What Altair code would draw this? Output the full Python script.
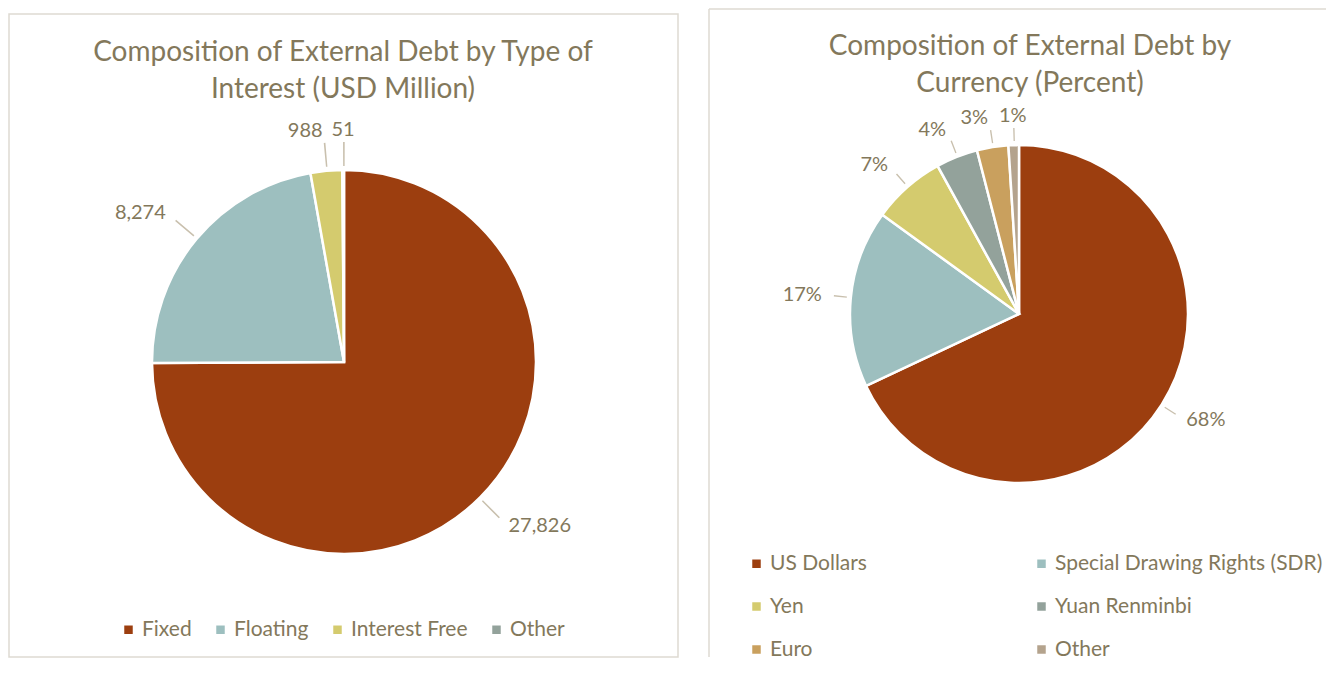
import altair as alt
import pandas as pd

# ---------------- data ----------------
interest_types = ["Fixed", "Floating", "Interest Free", "Other"]
interest_values = [27826, 8274, 988, 51]

currencies = ["US Dollars", "Special Drawing Rights (SDR)", "Yen", "Yuan Renminbi", "Euro", "Other"]
currency_pct = [68, 17, 7, 4, 3, 1]

title_left = ["Composition of External Debt by Type of", "Interest (USD Million)"]
title_right = ["Composition  of External Debt by", "Currency (Percent)"]

# ---------------- style ----------------
FONT = "Lato"
TEXT = "#83785B"
LEADER = "#C9C0AE"
BORDER = "#DEDAD2"
colors_left = ["#9C3E0F", "#9DBFBF", "#D4CB6E", "#93A29B"]
colors_right = ["#9C3E0F", "#9DBFBF", "#D4CB6E", "#93A29B", "#C9A05E", "#B4A38D"]


def pie_panel(cats, vals, colors, label_fmt, cx, cy, r, label_r, titles, tx, ty,
              legend_cols, legend_x, legend_y, col_pad, row_pad, grid_align):
    df = pd.DataFrame({"cat": cats, "val": vals, "idx": list(range(len(cats)))})
    total = float(sum(vals))
    data = alt.Data(values=df.to_dict(orient="records"))

    base = alt.Chart(data).transform_window(
        cum="sum(val)", sort=[alt.SortField("idx")], frame=[None, 0]
    ).transform_calculate(
        start="datum.cum - datum.val",
        mid="datum.cum - datum.val / 2",
        frac=f"(datum.cum - datum.val / 2) / {total}",
        mid2=f"datum.cum - datum.val / 2 + {total} * 0.0012",
    )
    if label_fmt == "pct":
        base = base.transform_calculate(lbl="format(datum.val, 'd') + '%'")
    else:
        base = base.transform_calculate(lbl="format(datum.val, ',')")

    tscale = alt.Scale(domain=[0, total], range=[0, 6.283185307179586])

    arcs = base.mark_arc(radius=r, stroke="white", strokeWidth=2.5).encode(
        theta=alt.Theta("start:Q", scale=tscale),
        theta2="cum:Q",
        x=alt.value(cx), y=alt.value(cy),
        color=alt.Color(
            "cat:N",
            scale=alt.Scale(domain=cats, range=colors),
            legend=alt.Legend(
                orient="none", legendX=legend_x, legendY=legend_y,
                direction="horizontal", columns=legend_cols, title=None,
                symbolType="square", symbolSize=72, symbolStrokeWidth=0,
                labelFont=FONT, labelFontSize=21, labelColor=TEXT,
                labelOffset=3, columnPadding=col_pad, rowPadding=row_pad,
                gridAlign=grid_align, labelLimit=400,
            ),
        ),
        order=alt.Order("idx:Q"),
    )

    leaders = base.mark_arc(radius=r + 4, radius2=label_r - 12, color=LEADER).encode(
        theta=alt.Theta("mid:Q", scale=tscale),
        theta2="mid2:Q",
        x=alt.value(cx), y=alt.value(cy),
    )

    def labels(cond, align):
        return base.transform_filter(cond).mark_text(
            radius=label_r, align=align, baseline="middle",
            font=FONT, fontSize=20, color=TEXT,
        ).encode(
            theta=alt.Theta("mid:Q", scale=tscale),
            text="lbl:N",
            x=alt.value(cx), y=alt.value(cy),
        )

    lab_l = labels("datum.frac > 0.01 && datum.frac < 0.49", "left")
    lab_r = labels("datum.frac > 0.51 && datum.frac < 0.99", "right")
    lab_c = labels("datum.frac <= 0.01 || datum.frac >= 0.99 || (datum.frac >= 0.49 && datum.frac <= 0.51)", "center")

    one = alt.Data(values=[{"k": 1}])
    t1 = alt.Chart(one).mark_text(font=FONT, fontSize=28, color=TEXT, align="center",
                                  baseline="alphabetic").encode(
        text=alt.value(titles[0]), x=alt.value(tx), y=alt.value(ty))
    t2 = alt.Chart(one).mark_text(font=FONT, fontSize=28, color=TEXT, align="center",
                                  baseline="alphabetic").encode(
        text=alt.value(titles[1]), x=alt.value(tx), y=alt.value(ty + 37))

    return [arcs, leaders, lab_l, lab_r, lab_c, t1, t2], one


W1, H = 670, 650
W2 = 618

# Left panel
layers_l, one_l = pie_panel(
    interest_types, interest_values, colors_left, "num",
    cx=336, cy=354, r=192, label_r=232, titles=title_left, tx=335, ty=53,
    legend_cols=4, legend_x=110, legend_y=611, col_pad=18, row_pad=0,
    grid_align="each",
)
border_l = alt.Chart(one_l).mark_rect(filled=False, stroke=BORDER, strokeWidth=1.5).encode(
    x=alt.value(1), x2=alt.value(W1), y=alt.value(6), y2=alt.value(H - 1))
left = alt.layer(border_l, *layers_l).properties(width=W1, height=H)

# Right panel
layers_r, one_r = pie_panel(
    currencies, currency_pct, colors_right, "pct",
    cx=311, cy=306, r=169, label_r=198, titles=title_right, tx=322, ty=47,
    legend_cols=2, legend_x=38, legend_y=545, col_pad=164, row_pad=21,
    grid_align="each",
)
border_r1 = alt.Chart(one_r).mark_rule(stroke=BORDER, strokeWidth=1.5).encode(
    x=alt.value(1), x2=alt.value(W2), y=alt.value(1))
border_r2 = alt.Chart(one_r).mark_rule(stroke=BORDER, strokeWidth=1.5).encode(
    x=alt.value(1), y=alt.value(1), y2=alt.value(H - 1))
right = alt.layer(border_r1, border_r2, *layers_r).properties(width=W2, height=H)

chart = alt.hconcat(left, right, spacing=29).resolve_scale(
    color="independent", theta="independent"
).properties(padding=0).configure(
    background="white",
    view=alt.ViewConfig(stroke="transparent", strokeWidth=0),
)

chart.save("out.html", embed_options={"renderer": "svg", "actions": False})
